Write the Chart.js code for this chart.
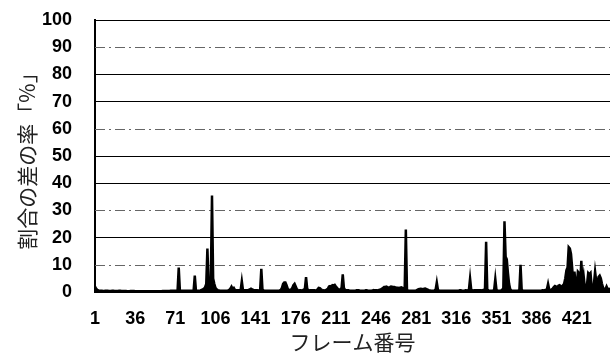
<!DOCTYPE html>
<html>
<head>
<meta charset="utf-8">
<script src="https://cdn.jsdelivr.net/npm/chart.js@4/dist/chart.umd.min.js"></script>
<style>
  body { margin: 0; background: #fff; }
  #wrap { width: 610px; height: 356px; }
</style>
</head>
<body>
<div id="wrap"><canvas id="diffChart"></canvas></div>
<script>
// 割合の差の率 [%] per frame (frames 1..450)
const rateDiff = [
  2.0,1.2,0.8,0.6,0.5,0.5,0.5,0.4,0.4,0.5,0.5,0.5,0.4,0.4,0.4,0.5,0.5,0.4,0.4,0.4,0.4,0.5,0.5,0.4,0.4,
  0.4,0.4,0.4,0.3,0.3,0.3,0.4,0.4,0.4,0.4,0.3,0.3,0.3,0.3,0.3,0.3,0.3,0.3,0.3,0.3,0.3,0.3,0.3,0.3,0.3,
  0.3,0.3,0.3,0.3,0.3,0.3,0.3,0.3,0.3,0.4,0.4,0.4,0.4,0.4,0.4,0.4,0.5,0.5,0.5,0.5,0.5,0.5,0.6,9.0,0.6,
  0.5,0.5,0.5,0.5,0.5,0.5,0.5,0.5,0.5,0.5,0.5,0.6,6.0,0.6,0.5,0.5,0.5,0.6,0.8,1.0,1.2,1.8,3.0,16.0,3.5,
  4.0,5.0,35.5,5.0,3.0,1.5,1.0,0.7,0.6,0.5,0.5,0.5,0.5,0.5,0.5,0.5,0.6,0.8,1.2,2.0,1.2,1.5,0.8,0.6,0.6,
  0.6,0.6,0.8,4.0,0.8,0.6,0.6,0.6,0.6,0.8,1.0,1.2,1.0,0.8,0.6,0.6,0.6,0.6,0.7,0.9,8.5,0.9,0.6,0.5,0.5,
  0.5,0.5,0.5,0.5,0.5,0.5,0.5,0.5,0.5,0.5,0.5,0.6,0.8,1.5,3.0,3.5,3.5,2.5,1.2,0.8,0.7,0.9,1.5,2.5,3.0,
  2.0,1.0,0.7,0.6,0.6,0.6,0.7,0.9,1.2,5.5,1.2,0.7,0.6,0.6,0.6,0.6,0.6,0.6,0.7,0.9,1.5,1.4,1.0,0.7,0.6,
  0.6,0.7,0.9,1.2,2.0,2.2,2.0,2.5,2.4,2.6,2.0,1.5,1.0,0.8,1.0,1.5,6.5,1.5,0.8,0.6,0.6,0.6,0.5,0.5,0.5,
  0.5,0.5,0.5,0.6,0.6,0.6,0.5,0.5,0.5,0.5,0.5,0.6,0.6,0.5,0.5,0.5,0.5,0.6,0.7,0.6,0.6,0.6,0.7,0.8,0.9,
  1.2,1.5,1.8,1.8,2.0,1.8,1.7,1.8,2.0,1.9,1.8,1.8,1.7,1.6,1.6,1.5,1.6,1.7,1.5,1.2,1.0,23.0,0.8,0.6,0.5,
  0.5,0.5,0.5,0.5,0.5,0.6,0.8,1.0,1.1,1.2,1.1,1.0,1.2,1.3,1.1,0.9,0.7,0.6,0.5,0.5,0.5,0.6,0.9,3.5,0.8,
  0.6,0.5,0.5,0.5,0.5,0.5,0.5,0.5,0.5,0.5,0.5,0.5,0.5,0.5,0.5,0.5,0.5,0.5,0.6,0.6,0.5,0.5,0.5,0.6,0.6,
  0.7,0.9,5.0,0.9,0.7,0.6,0.6,0.6,0.6,0.6,0.6,0.6,0.6,0.7,0.8,1.0,18.5,0.9,0.6,0.5,0.5,0.5,0.6,0.8,4.8,
  0.8,0.6,0.5,0.5,0.6,0.8,1.5,26.0,13.0,12.0,7.0,3.0,1.0,0.6,0.5,0.5,0.5,0.5,0.5,0.6,0.8,10.0,0.8,0.6,0.5,
  0.5,0.5,0.5,0.5,0.5,0.5,0.5,0.5,0.5,0.5,0.5,0.5,0.5,0.5,0.5,0.6,0.6,0.7,0.8,1.0,3.0,0.9,0.7,0.9,1.2,
  1.8,2.2,2.0,1.6,2.3,2.5,2.2,2.0,2.5,3.0,5.0,8.0,9.0,16.5,16.0,14.0,9.0,3.0,7.5,3.0,2.0,7.5,7.0,3.0,11.5,
  3.0,6.0,2.0,1.5,3.0,7.0,6.5,7.0,2.0,1.5,3.0,7.5,4.0,2.0,5.5,6.0,5.0,3.0,1.5,1.0,1.0,2.0,1.0,0.8,1.5
];

// フレーム番号
const frames = rateDiff.map((_, i) => String(i + 1));
const xTickLabels = ['1', '36', '71', '106', '141', '176', '211', '246', '281', '316', '351', '386', '421'];
const yTicks = [0, 10, 20, 30, 40, 50, 60, 70, 80, 90, 100];

// grid lines drawn dash-dot instead of solid
const dashedGrid = [10, 30, 60, 90];

const tickFont = { family: 'Liberation Sans, Arial, sans-serif', size: 18, weight: 'bold' };
const titleFont = { family: 'Noto Sans CJK JP, sans-serif', size: 21, lineHeight: 1 };

const dashGridPlugin = {
  id: 'dashGrid',
  beforeDatasetsDraw(chart) {
    const { ctx, chartArea, scales } = chart;
    ctx.save();
    ctx.strokeStyle = '#666';
    ctx.lineWidth = 1;
    ctx.setLineDash([10, 4, 2, 4]);
    dashedGrid.forEach(v => {
      const py = Math.round(scales.y.getPixelForValue(v)) + 0.5;
      ctx.beginPath();
      ctx.moveTo(chartArea.left, py);
      ctx.lineTo(chartArea.right, py);
      ctx.stroke();
    });
    ctx.restore();
  }
};

const chart = new Chart(document.getElementById('diffChart').getContext('2d'), {
  type: 'line',
  data: {
    labels: frames,
    datasets: [{
      data: rateDiff,
      borderColor: '#000',
      backgroundColor: '#000',
      borderWidth: 2.5,
      fill: 'origin',
      pointRadius: 0,
      tension: 0
    }]
  },
  options: {
    responsive: true,
    maintainAspectRatio: false,
    animation: false,
    layout: { padding: { top: 20, right: 0, left: 0, bottom: 0 } },
    plugins: { legend: { display: false }, tooltip: { enabled: false } },
    scales: {
      x: {
        type: 'category',
        offset: false,
        grid: { display: false, drawTicks: false },
        border: { color: '#000', width: 1.5 },
        ticks: {
          autoSkip: false,
          maxRotation: 0,
          minRotation: 0,
          padding: 16,
          color: '#000',
          font: tickFont,
          callback: function (val) {
            const lab = this.getLabelForValue(val);
            return xTickLabels.includes(lab) ? lab : '';
          }
        },
        title: {
          display: true,
          text: 'フレーム番号',
          color: '#222',
          font: titleFont,
          padding: { top: 0, bottom: 3 }
        },
        afterFit: s => { s.height = 64; s.paddingLeft = 0; s.paddingRight = 0; }
      },
      y: {
        min: 0,
        max: 100,
        afterBuildTicks: s => { s.ticks = yTicks.map(v => ({ value: v })); },
        grid: {
          drawTicks: false,
          lineWidth: 1,
          color: c => dashedGrid.includes(c.tick && c.tick.value) ? 'rgba(0,0,0,0)' : '#000'
        },
        border: { color: '#000', width: 2 },
        ticks: { padding: 23, color: '#000', font: tickFont },
        title: {
          display: true,
          text: '割合の差の率「%」',
          color: '#222',
          font: titleFont,
          padding: { top: 17, bottom: 0 }
        },
        afterFit: s => { s.width = 95; s.paddingTop = 0; s.paddingBottom = 0; }
      }
    }
  },
  plugins: [dashGridPlugin]
});
</script>
</body>
</html>
